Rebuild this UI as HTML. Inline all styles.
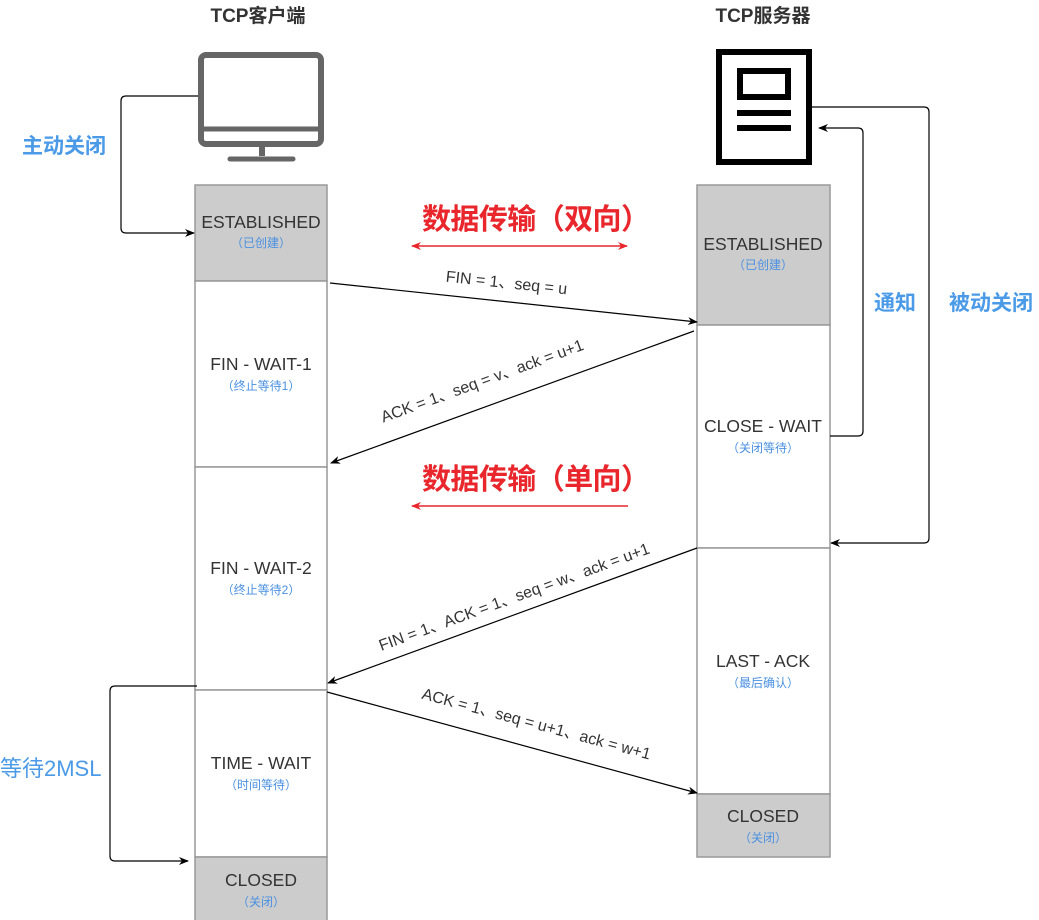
<!DOCTYPE html>
<html><head><meta charset="utf-8"><style>
html,body{margin:0;padding:0;background:#fff;width:1039px;height:920px;overflow:hidden}
svg{display:block}
.t{font-family:"Liberation Sans","Noto Sans CJK SC",sans-serif}
</style></head><body>
<svg width="1039" height="920" viewBox="0 0 1039 920" xmlns="http://www.w3.org/2000/svg" class="t">
<defs>
<marker id="ab" markerWidth="10" markerHeight="10" refX="9" refY="5" orient="auto" markerUnits="userSpaceOnUse"><path d="M0,1 L10,5 L0,9 L3,5Z" fill="#000"/></marker>
<marker id="ar" markerWidth="10" markerHeight="10" refX="9" refY="5" orient="auto" markerUnits="userSpaceOnUse"><path d="M0,1 L10,5 L0,9 L3,5Z" fill="#e8262c"/></marker>
<marker id="ar2" markerWidth="10" markerHeight="10" refX="1" refY="5" orient="auto" markerUnits="userSpaceOnUse"><path d="M10,1 L0,5 L10,9 L7,5Z" fill="#e8262c"/></marker>
</defs>
<text x="258" y="22" font-size="19" font-weight="bold" fill="#333" text-anchor="middle">TCP客户端</text>
<text x="763" y="22" font-size="19" font-weight="bold" fill="#333" text-anchor="middle">TCP服务器</text>
<rect x="201" y="55" width="120" height="89" rx="5" fill="none" stroke="#666" stroke-width="6"/>
<line x1="201" y1="129" x2="321" y2="129" stroke="#666" stroke-width="5"/>
<rect x="259" y="144" width="6" height="12" fill="#666"/>
<line x1="230" y1="159" x2="293" y2="159" stroke="#666" stroke-width="5" stroke-linecap="round"/>
<rect x="719" y="52" width="90" height="110" fill="none" stroke="#000" stroke-width="6"/>
<rect x="740" y="71" width="48" height="26" fill="none" stroke="#000" stroke-width="6"/>
<line x1="737" y1="113" x2="791" y2="113" stroke="#000" stroke-width="6"/>
<line x1="737" y1="128" x2="791" y2="128" stroke="#000" stroke-width="6"/>
<g stroke="#999" stroke-width="1.5">
<rect x="195" y="185" width="132" height="96" fill="#cccccc"/>
<rect x="195" y="281" width="132" height="186" fill="#fff"/>
<rect x="195" y="467" width="132" height="223" fill="#fff"/>
<rect x="195" y="690" width="132" height="167" fill="#fff"/>
<rect x="195" y="857" width="132" height="65" fill="#cccccc"/>
<rect x="697" y="185" width="133" height="140" fill="#cccccc"/>
<rect x="697" y="325" width="133" height="223" fill="#fff"/>
<rect x="697" y="548" width="133" height="246" fill="#fff"/>
<rect x="697" y="794" width="133" height="63" fill="#cccccc"/>
</g>
<g font-size="17.5" fill="#333" text-anchor="middle">
<text x="261" y="228">ESTABLISHED</text>
<text x="261" y="370">FIN - WAIT-1</text>
<text x="261" y="574">FIN - WAIT-2</text>
<text x="261" y="769">TIME - WAIT</text>
<text x="261" y="886">CLOSED</text>
<text x="763" y="250">ESTABLISHED</text>
<text x="763" y="432">CLOSE - WAIT</text>
<text x="763" y="667">LAST - ACK</text>
<text x="763" y="822">CLOSED</text>
</g>
<g font-size="12" fill="#4a90e2" text-anchor="middle">
<text x="261" y="247">（已创建）</text>
<text x="261" y="390">（终止等待1）</text>
<text x="261" y="594">（终止等待2）</text>
<text x="261" y="789">（时间等待）</text>
<text x="261" y="906">（关闭）</text>
<text x="763" y="269">（已创建）</text>
<text x="763" y="452">（关闭等待）</text>
<text x="763" y="687">（最后确认）</text>
<text x="763" y="842">（关闭）</text>
</g>
<g font-size="21" fill="#4a9ae8" font-weight="bold">
<text x="22" y="153">主动关闭</text>
<text x="874" y="310">通知</text>
<text x="949" y="310">被动关闭</text>
</g>
<text x="0" y="776" font-size="22" fill="#4a9ae8">等待2MSL</text>
<g font-size="29" font-weight="bold" fill="#e8262c">
<text x="422" y="229" textLength="228">数据传输（双向）</text>
<text x="422" y="489" textLength="228">数据传输（单向）</text>
</g>
<line x1="412" y1="246" x2="627" y2="246" stroke="#e8262c" stroke-width="1.5" marker-end="url(#ar)" marker-start="url(#ar2)"/>
<line x1="628" y1="506" x2="412" y2="506" stroke="#e8262c" stroke-width="1.5" marker-end="url(#ar)"/>
<g fill="none" stroke="#000" stroke-width="1.2">
<path d="M198,96 H126 Q121,96 121,101 V228 Q121,233 126,233 H194" marker-end="url(#ab)"/>
<path d="M330,283 L697,322" marker-end="url(#ab)"/>
<path d="M694,331 L331,463" marker-end="url(#ab)"/>
<path d="M830,436 H858 Q863,436 863,431 V133 Q863,128 858,128 H819" marker-end="url(#ab)"/>
<path d="M812,107 H924 Q929,107 929,112 V538 Q929,543 924,543 H831" marker-end="url(#ab)"/>
<path d="M697,548 L328,683" marker-end="url(#ab)"/>
<path d="M327,692 L697,793" marker-end="url(#ab)"/>
<path d="M197,686 H115 Q110,686 110,691 V856 Q110,861 115,861 H188" marker-end="url(#ab)"/>
</g>
<g font-size="16" fill="#333" text-anchor="middle">
<text transform="translate(506,288) rotate(6)">FIN = 1、seq = u</text>
<text transform="translate(484,386) rotate(-20)">ACK = 1、seq = v、ack = u+1</text>
<text transform="translate(516,602) rotate(-20)">FIN = 1、ACK = 1、seq = w、ack = u+1</text>
<text transform="translate(535,729) rotate(15)">ACK = 1、seq = u+1、ack = w+1</text>
</g>
</svg>
</body></html>
